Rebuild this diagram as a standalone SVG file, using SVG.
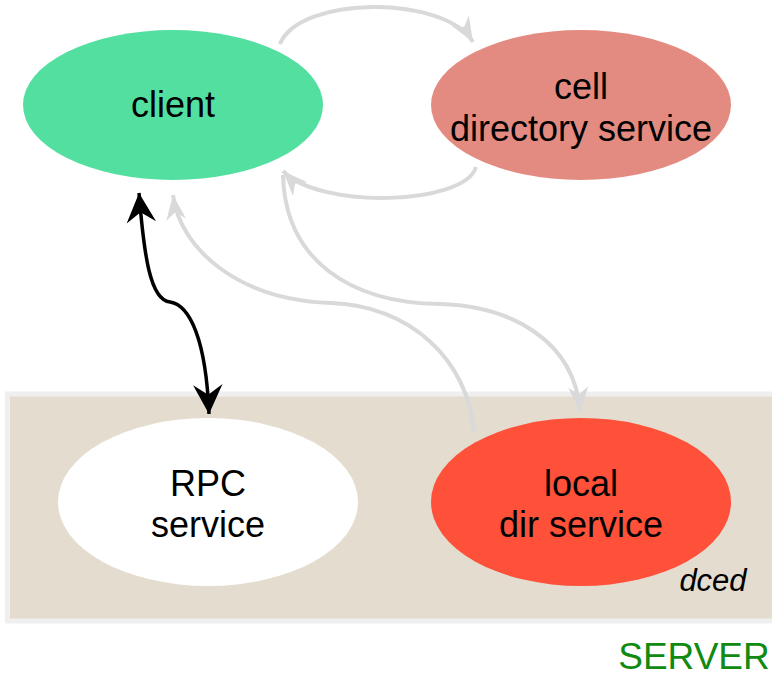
<svg xmlns="http://www.w3.org/2000/svg" width="772" height="677" viewBox="0 0 772 677">
<style>
.lbl{font-family:"Liberation Sans",Arial,sans-serif;font-size:36px;fill:#000;text-anchor:middle}
.g{fill:none;stroke:#d9d9d9;stroke-width:4}
.b{fill:none;stroke:#000;stroke-width:3.5}
</style>
<defs>
<marker id="ag" markerUnits="userSpaceOnUse" markerWidth="30" markerHeight="30" viewBox="-22 -11 24 22" refX="0" refY="0" orient="auto">
<path d="M0,0 L-20,-8 L-14,0 L-20,8 Z" fill="#d9d9d9"/>
</marker>
<marker id="ab" markerUnits="userSpaceOnUse" markerWidth="34" markerHeight="34" viewBox="-28 -15 30 30" refX="0" refY="0" orient="auto-start-reverse">
<path d="M0,0 L-26,-13 L-17,0 L-26,13 Z" fill="#000"/>
</marker>
</defs>
<rect x="0" y="0" width="772" height="677" fill="#fff"/>
<g id="server">
<rect x="7.5" y="394" width="767" height="227" fill="#e3dccf" stroke="#efefef" stroke-width="5"/>
<text x="694" y="669" font-family="Liberation Sans,Arial,sans-serif" font-size="37" fill="#108a10" text-anchor="middle">SERVER</text>
<text x="713" y="591" font-family="Liberation Sans,Arial,sans-serif" font-size="31" font-style="italic" fill="#000" text-anchor="middle">dced</text>
</g>
<g id="client">
<ellipse cx="173" cy="105" rx="150" ry="75" fill="#52dfa0"/>
<text class="lbl" x="173" y="117">client</text>
</g>
<g id="cds">
<ellipse cx="581" cy="105" rx="150" ry="75" fill="#e38b80"/>
<text class="lbl" x="581" y="99">cell</text>
<text class="lbl" x="581" y="141">directory service</text>
</g>
<g id="rpc">
<ellipse cx="208" cy="502" rx="150" ry="84" fill="#fff"/>
<text class="lbl" x="208" y="496">RPC</text>
<text class="lbl" x="208" y="537">service</text>
</g>
<g id="lds">
<ellipse cx="581" cy="502" rx="150" ry="84" fill="#ff503a"/>
<text class="lbl" x="581" y="496">local</text>
<text class="lbl" x="581" y="537">dir service</text>
</g>
<g id="connectors">
<path class="g" d="M280,44 C300,-5 445,-5 473,42" marker-end="url(#ag)"/>
<path class="g" d="M476,167 C465,205 320,210 283,171" marker-end="url(#ag)"/>
<path class="g" d="M283,175 C285,260 350,303 440,304 C510,306 575,340 580,412" marker-end="url(#ag)"/>
<path class="g" d="M474,432 C468,360 410,305 330,303 C240,300 180,250 173,195" marker-end="url(#ag)"/>
<path class="b" d="M139,193 C144,255 150,300 170,302 C190,305 206,340 209,414" marker-start="url(#ab)" marker-end="url(#ab)"/>
</g>
</svg>
